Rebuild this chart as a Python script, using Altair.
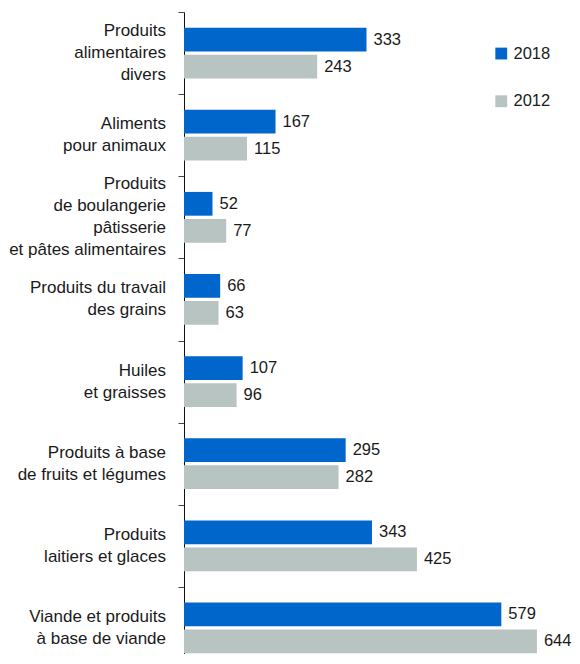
import altair as alt
import pandas as pd

# ---- data ----
categories = [
    ["Produits", "alimentaires", "divers"],
    ["Aliments", "pour animaux"],
    ["Produits", "de boulangerie", "pâtisserie", "et pâtes alimentaires"],
    ["Produits du travail", "des grains"],
    ["Huiles", "et graisses"],
    ["Produits à base", "de fruits et légumes"],
    ["Produits", "laitiers et glaces"],
    ["Viande et produits", "à base de viande"],
]
values_2018 = [333, 167, 52, 66, 107, 295, 343, 579]
values_2012 = [243, 115, 77, 63, 96, 282, 425, 644]
series = ["2018", "2012"]

# ---- styling ----
BLUE = "#0066CC"
GRAY = "#B8C4C2"
FONT = "Liberation Sans"
LABEL_FS = 17
VALUE_FS = 16.5
LINE_H = 22
PLOT_W = 388
PLOT_H = 642          # visible plot height (the last band runs off the page)
BAND_RANGE = 657      # full extent of the 8 category bands
STEP = BAND_RANGE / len(categories)
X_MAX = 708

# approximate Arial / Liberation Sans advance widths (1/1000 em) to centre
# the lines of each multi-line category label inside its own block
W = {" ": 278, "a": 556, "b": 556, "c": 500, "d": 556, "e": 556, "f": 278,
     "g": 556, "h": 556, "i": 222, "j": 222, "k": 500, "l": 222, "m": 833,
     "n": 556, "o": 556, "p": 556, "q": 556, "r": 333, "s": 500, "t": 278,
     "u": 556, "v": 500, "w": 722, "x": 500, "y": 500, "z": 500, "P": 667,
     "A": 667, "H": 722, "V": 667, "à": 556, "â": 556, "é": 556}
NBSP = "\u00a0"


def text_w(s):
    return sum(W.get(c, 556) for c in s) / 1000 * LABEL_FS


def make_key(lines):
    widths = [text_w(l) for l in lines]
    block = max(widths)
    unit = 0.278 * LABEL_FS
    out = []
    for l, w in zip(lines, widths):
        n = int(round((block - w) / 2 / unit))
        out.append(l + NBSP * n)
    return "|".join(out)


keys = [make_key(c) for c in categories]

rows = []
for k, v18, v12 in zip(keys, values_2018, values_2012):
    rows.append({"cat": k, "series": "2018", "value": v18})
    rows.append({"cat": k, "series": "2012", "value": v12})
df = pd.DataFrame(rows)

cat_df = pd.DataFrame({"cat": keys})

y_scale = alt.Scale(paddingInner=0, paddingOuter=0, range=[0, BAND_RANGE])

y_enc = alt.Y(
    "cat:N",
    sort=keys,
    scale=y_scale,
    axis=alt.Axis(
        title=None,
        labels=False,
        tickSize=6,
        tickBand="extent",
        tickColor="#444444",
        domainColor="#111111",
        grid=False,
    ),
)
yoff_enc = alt.YOffset(
    "series:N",
    sort=series,
    scale=alt.Scale(domain=series, paddingInner=0.12, paddingOuter=0.58),
)
x_enc = alt.X("value:Q", scale=alt.Scale(domain=[0, X_MAX]), axis=None)

base = alt.Chart(df)

bars = base.mark_bar().encode(
    x=x_enc,
    y=y_enc,
    yOffset=yoff_enc,
    color=alt.Color(
        "series:N",
        scale=alt.Scale(domain=series, range=[BLUE, GRAY]),
        legend=alt.Legend(
            title=None,
            orient="none",
            legendX=309,
            legendY=33.3,
            symbolType="square",
            symbolSize=140,
            symbolStrokeWidth=0,
            labelFontSize=VALUE_FS,
            labelFont=FONT,
            labelColor="#1a1a1a",
            labelOffset=4,
            rowPadding=30.7,
        ),
    ),
)

values_txt = base.mark_text(
    align="left", baseline="middle", dx=7, fontSize=VALUE_FS, font=FONT,
    color="#1a1a1a",
).encode(
    x=x_enc,
    y=y_enc,
    yOffset=yoff_enc,
    text=alt.Text("value:Q"),
)

# category labels: multi-line blocks, vertically centred on each band
cat_txt = alt.Chart(cat_df).transform_calculate(
    shift=f"{STEP / 2} - (length(split(datum.cat, '|')) - 1) * {LINE_H / 2}"
).mark_text(
    align="right", baseline="middle", fontSize=LABEL_FS, font=FONT,
    color="#1a1a1a", lineBreak="|", lineHeight=LINE_H,
).encode(
    x=alt.value(-18),
    y=alt.Y("cat:N", sort=keys),
    yOffset=alt.YOffset("shift:Q", scale=None),
    text="cat:N",
)

chart = (
    alt.layer(bars, values_txt, cat_txt)
    .properties(
        width=PLOT_W,
        height=PLOT_H,
        autosize=alt.AutoSizeParams(type="none"),
        padding={"left": 176, "top": 4, "right": 0, "bottom": 0},
    )
    .configure_view(stroke=None)
)

chart.save("out.html", embed_options={"renderer": "svg", "actions": False})
